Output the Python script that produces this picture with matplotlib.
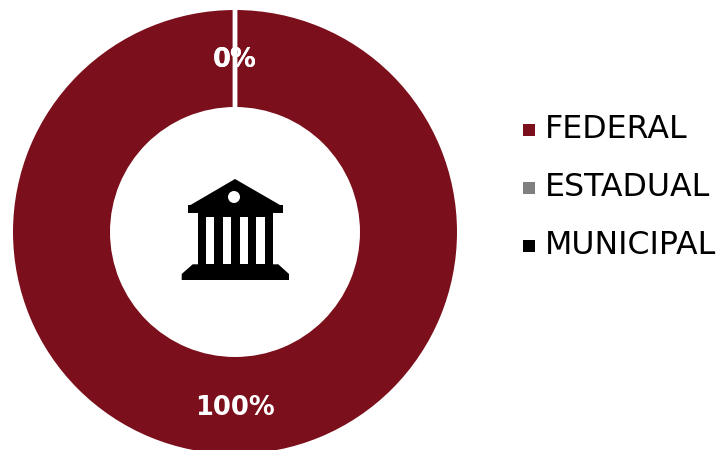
import matplotlib
matplotlib.use('Agg')
import matplotlib.pyplot as plt
from matplotlib.patches import Polygon, Rectangle, Circle

labels = ['FEDERAL', 'ESTADUAL', 'MUNICIPAL']
values = [100, 0, 0]
colors = ['#7B0F1B', '#7F7F7F', '#000000']

plt.rcParams['font.family'] = ['DejaVu Sans']

W, H = 723, 450
fig = plt.figure(figsize=(W / 100, H / 100), dpi=100)

# donut, one data unit = 222 px, centre at px (235, 232)
# radius is a bit over 1 because the white edge eats into the ring
ax = fig.add_axes([0, 0, 1, 1])
wedges, texts, autotexts = ax.pie(values, colors=colors, startangle=90, counterclock=False,
                                  radius=1.01, autopct='%.0f%%', pctdistance=0.776,
                                  wedgeprops=dict(width=0.457, edgecolor='white', linewidth=3.2),
                                  textprops=dict(color='white', fontsize=18.5, fontweight='bold'))
# labels sit slightly lower than the ring middle
for t in autotexts:
    x, y = t.get_position()
    t.set_position((x, y - 2 / 222))
ax.set_xlim(-235 / 222, (W - 235) / 222)
ax.set_ylim(-(H - 232) / 222, 232 / 222)
ax.set_aspect('equal')
ax.axis('off')

# overlay in pixel coordinates for the icon
icon = fig.add_axes([0, 0, 1, 1])
icon.set_xlim(0, W)
icon.set_ylim(H, 0)
icon.axis('off')
icon.patch.set_visible(False)

icon.add_patch(Polygon([(235, 179), (280, 205), (190.5, 205)], color='black', lw=0))
icon.add_patch(Rectangle((188.3, 205), 94.4, 8.3, color='black', lw=0))
icon.add_patch(Circle((234, 197), 6, color='white', lw=0))
icon.add_patch(Rectangle((197.7, 213), 75.6, 52, color='black', lw=0))
for x in [206, 222.7, 239.7, 256.3]:
    icon.add_patch(Rectangle((x, 216.7), 8.4, 47.5, color='white', lw=0))
icon.add_patch(Polygon([(192.7, 264.3), (278.3, 264.3), (289, 274), (289, 280), (181.7, 280), (181.7, 274)],
                       color='black', lw=0))

# legend
ys = [130, 188, 246]
for name, c, y in zip(labels, colors, ys):
    icon.add_patch(Rectangle((523, y - 6), 12, 12, color=c, lw=0))
    icon.text(544.5, y, name, fontsize=22.8, color='black', va='center', ha='left')

fig.savefig('out.png', dpi=100)
